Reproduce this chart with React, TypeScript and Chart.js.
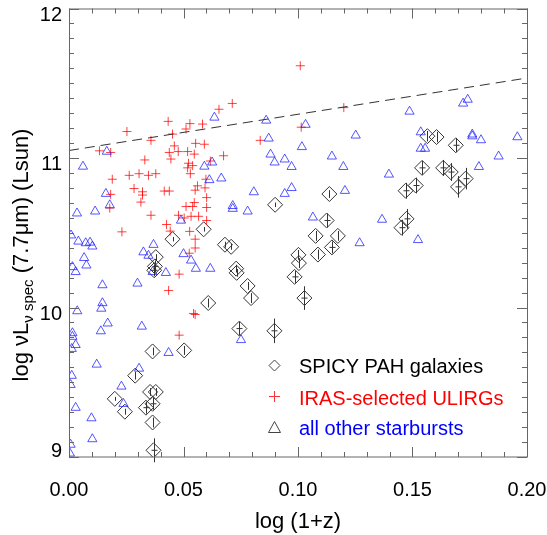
import { useEffect, useRef } from "react";
import { Chart, registerables } from "chart.js";

Chart.register(...registerables);

const FONT = '"Liberation Sans", Arial, Helvetica, sans-serif';
const AXIS_COLOR = "#666666";

// SPICY PAH galaxies (diamonds) with vertical error half-lengths
const spicyX = [0.09, 0.0588, 0.0452, 0.1565, 0.1605, 0.1689, 0.1542, 0.1634, 0.1667, 0.1732, 0.1699, 0.1514, 0.147, 0.1137, 0.1125, 0.1474, 0.1452, 0.1077, 0.1174, 0.1148, 0.1087, 0.1002, 0.1004, 0.0985, 0.1028, 0.0681, 0.0708, 0.0379, 0.0375, 0.0372, 0.073, 0.0732, 0.078, 0.0795, 0.0608, 0.0744, 0.0897, 0.0365, 0.0503, 0.0289, 0.02, 0.0354, 0.0379, 0.0244, 0.0336, 0.0365, 0.0365, 0.0369];
const spicyY = [10.687, 10.523, 10.457, 11.146, 11.14, 11.085, 10.934, 10.934, 10.906, 10.862, 10.807, 10.816, 10.781, 10.759, 10.582, 10.593, 10.534, 10.479, 10.479, 10.402, 10.354, 10.352, 10.297, 10.205, 10.063, 10.42, 10.406, 10.337, 10.275, 10.249, 10.26, 10.232, 10.144, 10.063, 10.03, 9.859, 9.844, 9.706, 9.713, 9.544, 9.389, 9.435, 9.435, 9.303, 9.33, 9.356, 9.231, 9.045];
const spicyErr = [0.015, 0.015, 0.015, 0.035, 0.035, 0.046, 0.046, 0.053, 0.06, 0.072, 0.072, 0.053, 0.053, 0.026, 0.046, 0.066, 0.053, 0.033, 0.033, 0.04, 0.033, 0.033, 0.033, 0.04, 0.079, 0.02, 0.02, 0.02, 0.04, 0.04, 0.026, 0.026, 0.026, 0.033, 0.03, 0.045, 0.082, 0.026, 0.03, 0.026, 0.013, 0.026, 0.026, 0.02, 0.04, 0.04, 0.033, 0.08];

// IRAS-selected ULIRGs (plus signs)
const ulirgX = [0.101, 0.0713, 0.0655, 0.0433, 0.0528, 0.0583, 0.0511, 0.0253, 0.0452, 0.1014, 0.0358, 0.0553, 0.0591, 0.0835, 0.0133, 0.0182, 0.046, 0.0438, 0.0477, 0.0518, 0.0547, 0.0445, 0.0675, 0.0331, 0.0522, 0.0518, 0.054, 0.0617, 0.0189, 0.0263, 0.0306, 0.0347, 0.0379, 0.053, 0.0598, 0.0284, 0.0321, 0.0321, 0.0416, 0.0438, 0.0561, 0.0551, 0.0594, 0.0314, 0.0182, 0.0178, 0.0601, 0.0547, 0.0511, 0.054, 0.0601, 0.0358, 0.0478, 0.0503, 0.0533, 0.0566, 0.0601, 0.0426, 0.0231, 0.0442, 0.0527, 0.12, 0.0551, 0.0551, 0.0525, 0.0481, 0.0435, 0.0544, 0.0551, 0.0481];
const ulirgY = [11.617, 11.365, 11.326, 11.245, 11.23, 11.227, 11.194, 11.177, 11.16, 11.206, 11.118, 11.098, 11.092, 11.118, 11.048, 11.037, 11.081, 11.037, 11.043, 11.043, 11.026, 10.993, 11.015, 10.987, 10.965, 10.934, 10.949, 10.98, 10.858, 10.884, 10.895, 10.884, 10.895, 10.895, 10.858, 10.796, 10.774, 10.752, 10.779, 10.779, 10.814, 10.785, 10.8, 10.705, 10.757, 10.665, 10.735, 10.702, 10.676, 10.676, 10.669, 10.617, 10.617, 10.599, 10.61, 10.61, 10.582, 10.555, 10.506, 10.511, 10.509, 11.337, 10.457, 10.398, 10.363, 10.223, 10.114, 9.96, 9.953, 9.815];

// all other starbursts (triangles)
const otherX = [0.0635, 0.0861, 0.1033, 0.0165, 0.0872, 0.1017, 0.0061, 0.088, 0.0942, 0.0898, 0.0972, 0.0591, 0.0625, 0.0613, 0.0665, 0.0161, 0.0178, 0.0807, 0.0972, 0.0942, 0.0035, 0.0114, 0.0715, 0.0715, 0.078, 0.0489, 0.0009, 0.1741, 0.1721, 0.1487, 0.1252, 0.1536, 0.1761, 0.1761, 0.1799, 0.1958, 0.1148, 0.1536, 0.1555, 0.1198, 0.1876, 0.179, 0.1397, 0.1205, 0.1065, 0.1367, 0.0041, 0.0073, 0.0092, 0.0102, 0.0369, 0.0325, 0.0347, 0.0066, 0.0076, 0.0015, 0.0029, 0.05, 0.0533, 0.0554, 0.0617, 0.0423, 0.0365, 0.0146, 0.0299, 0.0146, 0.0141, 0.0036, 0.0169, 0.0139, 0.0318, 0.0015, 0.0015, 0.0029, 0.0012, 0.0751, 0.0435, 0.0121, 0.0306, 0.0012, 0.0007, 0.0229, 0.0238, 0.0029, 0.0098, 0.0102, 0.0007, 0.0004, 0.1269, 0.1524];
const otherY = [11.271, 11.251, 11.223, 11.043, 11.131, 11.074, 10.943, 11.024, 10.991, 10.971, 10.941, 10.943, 10.971, 10.853, 10.864, 10.761, 10.685, 10.772, 10.8, 10.761, 10.63, 10.643, 10.68, 10.661, 10.643, 10.582, 10.483, 11.391, 11.365, 11.311, 11.151, 11.173, 11.158, 11.146, 11.12, 11.14, 11.011, 11.063, 11.063, 10.941, 11.011, 10.941, 10.89, 10.781, 10.603, 10.588, 10.442, 10.431, 10.435, 10.409, 10.42, 10.37, 10.347, 10.332, 10.282, 10.271, 10.238, 10.358, 10.315, 10.26, 10.26, 10.232, 10.238, 10.15, 10.161, 10.03, 9.993, 9.976, 9.894, 9.842, 9.873, 9.829, 9.805, 9.75, 9.724, 9.783, 9.697, 9.619, 9.592, 9.544, 9.483, 9.472, 9.356, 9.33, 9.26, 9.12, 9.083, 9.024, 10.431, 10.452];

// dashed reference line
const lineX = [0.0, 0.2];
const lineY = [11.05, 11.535];

const xTickValues = [0.0, 0.05, 0.1, 0.15, 0.2];
const xTickLabels = ["0.00", "0.05", "0.10", "0.15", "0.20"];
const yTickValues = [9, 10, 11, 12];
const yTickLabels = ["9", "10", "11", "12"];

const legendLabels = ["SPICY PAH galaxies", "IRAS-selected ULIRGs", "all other starbursts"];
const legendColors = ["#000000", "#ff0000", "#0000ff"];

const xTitle = "log (1+z)";

const pts = (xs: number[], ys: number[]) => xs.map((x, i) => ({ x, y: ys[i] }));

export default function App() {
  const ref = useRef<HTMLCanvasElement>(null);

  useEffect(() => {
    const canvas = ref.current;
    if (!canvas) return;

    const decorPlugin = {
      id: "decor",
      afterDatasetsDraw(chart: any) {
        const ctx = chart.ctx as CanvasRenderingContext2D;
        const xs = chart.scales.x;
        const ys = chart.scales.y;
        // error bars on SPICY diamonds
        ctx.save();
        ctx.strokeStyle = "#333333";
        ctx.lineWidth = 1;
        spicyX.forEach((x, i) => {
          const px = Math.round(xs.getPixelForValue(x)) + 0.5;
          const y1 = ys.getPixelForValue(spicyY[i] + spicyErr[i]);
          const y2 = ys.getPixelForValue(spicyY[i] - spicyErr[i]);
          const py = ys.getPixelForValue(spicyY[i]);
          ctx.beginPath();
          ctx.moveTo(px, y1);
          ctx.lineTo(px, y2);
          if (spicyErr[i] >= 0.04) {
            ctx.moveTo(px - 3, py);
            ctx.lineTo(px + 3, py);
          }
          ctx.stroke();
        });
        ctx.restore();
      },
      afterDraw(chart: any) {
        const ctx = chart.ctx as CanvasRenderingContext2D;
        const { left, right, top, bottom } = chart.chartArea;
        const xs = chart.scales.x;
        const ys = chart.scales.y;
        ctx.save();
        ctx.strokeStyle = AXIS_COLOR;
        ctx.lineWidth = 1;
        // frame
        ctx.strokeRect(left + 0.5, top + 0.5, right - left, bottom - top - 0.5);
        // x ticks (minor 0.01, major 0.05)
        ctx.beginPath();
        for (let i = 0; i <= 20; i++) {
          const v = i / 100;
          const len = i % 5 === 0 ? 10 : 5;
          const px = Math.round(xs.getPixelForValue(v)) + 0.5;
          ctx.moveTo(px, bottom);
          ctx.lineTo(px, bottom - len);
          ctx.moveTo(px, top);
          ctx.lineTo(px, top + len);
        }
        // y ticks (minor 0.1, major 1)
        for (let i = 0; i <= 30; i++) {
          const v = 9 + i / 10;
          const len = i % 10 === 0 ? 10 : 5;
          const py = Math.round(ys.getPixelForValue(v)) + 0.5;
          ctx.moveTo(left, py);
          ctx.lineTo(left + len, py);
          ctx.moveTo(right, py);
          ctx.lineTo(right - len, py);
        }
        ctx.stroke();

        // tick labels
        ctx.fillStyle = "#000000";
        ctx.font = `20px ${FONT}`;
        ctx.textBaseline = "alphabetic";
        ctx.textAlign = "center";
        xTickValues.forEach((v, i) => {
          ctx.fillText(xTickLabels[i], xs.getPixelForValue(v), 496);
        });
        ctx.textAlign = "right";
        yTickValues.forEach((v, i) => {
          let base = ys.getPixelForValue(v) + 12;
          base = Math.max(18.5, Math.min(457, base));
          ctx.fillText(yTickLabels[i], 62, base);
        });

        // x title
        ctx.font = `22px ${FONT}`;
        ctx.textAlign = "center";
        ctx.fillText(xTitle, (left + right) / 2, 527.5);

        // y title with subscripts
        const segs = [
          { t: "log ", s: 22, d: 0 },
          { t: "\u03BD", s: 22, d: 0 },
          { t: "L", s: 22, d: 0 },
          { t: "\u03BD", s: 15, d: 5 },
          { t: " spec", s: 15, d: 5 },
          { t: " (7.7", s: 22, d: 0 },
          { t: "\u03BC", s: 22, d: 0 },
          { t: "m) (Lsun)", s: 22, d: 0 },
        ];
        let total = 0;
        const widths = segs.map((sg) => {
          ctx.font = `${sg.s}px ${FONT}`;
          const w = ctx.measureText(sg.t).width;
          total += w;
          return w;
        });
        ctx.save();
        ctx.translate(28, 255);
        ctx.rotate(-Math.PI / 2);
        ctx.textAlign = "left";
        let cx = -total / 2;
        segs.forEach((sg, i) => {
          ctx.font = `${sg.s}px ${FONT}`;
          ctx.fillText(sg.t, cx, sg.d);
          cx += widths[i];
        });
        ctx.restore();

        // legend
        const lx = 274.5;
        const lyc = [365.5, 396.5, 427.5];
        const lyb = [373, 404.5, 434.5];
        ctx.lineWidth = 1;
        // diamond
        ctx.strokeStyle = "#444444";
        ctx.beginPath();
        ctx.moveTo(lx - 5.5, lyc[0]);
        ctx.lineTo(lx, lyc[0] - 5.5);
        ctx.lineTo(lx + 5.5, lyc[0]);
        ctx.lineTo(lx, lyc[0] + 5.5);
        ctx.closePath();
        ctx.stroke();
        // plus
        ctx.strokeStyle = "#ff3030";
        ctx.beginPath();
        ctx.moveTo(lx - 5.5, lyc[1]);
        ctx.lineTo(lx + 5.5, lyc[1]);
        ctx.moveTo(lx, lyc[1] - 5.5);
        ctx.lineTo(lx, lyc[1] + 5.5);
        ctx.stroke();
        // triangle
        ctx.strokeStyle = "#444444";
        ctx.beginPath();
        ctx.moveTo(lx, lyc[2] - 6);
        ctx.lineTo(lx + 6, lyc[2] + 5);
        ctx.lineTo(lx - 6, lyc[2] + 5);
        ctx.closePath();
        ctx.stroke();

        ctx.font = `20px ${FONT}`;
        ctx.textAlign = "left";
        legendLabels.forEach((lab, i) => {
          ctx.fillStyle = legendColors[i];
          ctx.fillText(lab, 299, lyb[i]);
        });
        ctx.restore();
      },
    };

    const chart = new Chart(canvas, {
      type: "scatter",
      data: {
        datasets: [
          {
            label: "dashed",
            type: "line",
            data: pts(lineX, lineY),
            borderColor: "#333333",
            borderWidth: 1,
            borderDash: [10, 6],
            pointRadius: 0,
            fill: false,
          } as any,
          {
            label: legendLabels[2],
            data: pts(otherX, otherY),
            pointStyle: "triangle",
            pointRadius: 5.3,
            borderColor: "rgba(30,30,255,0.75)",
            backgroundColor: "rgba(0,0,0,0)",
            pointBorderWidth: 1,
          },
          {
            label: legendLabels[1],
            data: pts(ulirgX, ulirgY),
            pointStyle: "cross",
            pointRadius: 4.5,
            borderColor: "rgba(255,0,0,0.75)",
            backgroundColor: "rgba(0,0,0,0)",
            pointBorderWidth: 1,
          },
          {
            label: legendLabels[0],
            data: pts(spicyX, spicyY),
            pointStyle: "rectRot",
            pointRadius: 7.5,
            borderColor: "#333333",
            backgroundColor: "rgba(0,0,0,0)",
            pointBorderWidth: 1,
          },
        ],
      },
      options: {
        animation: false,
        responsive: false,
        maintainAspectRatio: false,
        layout: { padding: { left: 69, right: 20, top: 0, bottom: 78 } },
        plugins: {
          legend: { display: false },
          tooltip: { enabled: false },
        },
        scales: {
          x: { type: "linear", min: 0, max: 0.2, display: false },
          y: { type: "linear", min: 9, max: 12, display: false },
        },
      },
      plugins: [decorPlugin],
    });

    return () => chart.destroy();
  }, []);

  return (
    <div style={{ position: "absolute", left: 0, top: 0, width: 547, height: 535, background: "#ffffff" }}>
      <canvas ref={ref} width={547} height={535} style={{ display: "block" }} />
    </div>
  );
}
